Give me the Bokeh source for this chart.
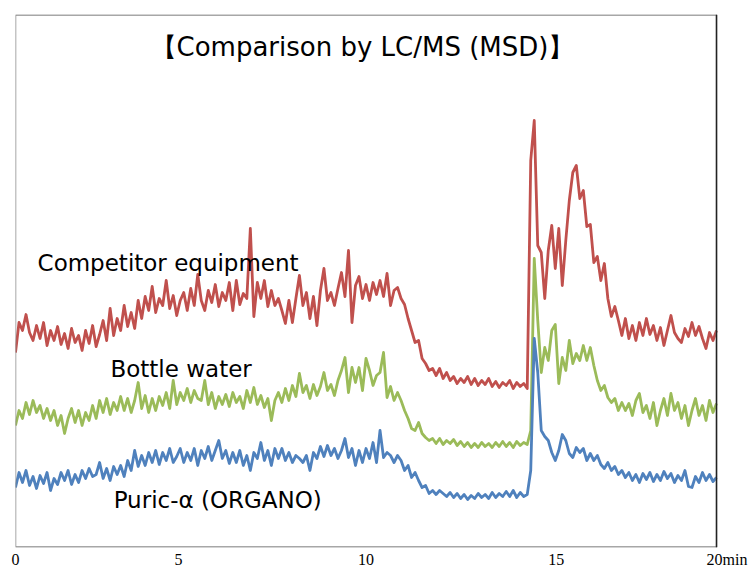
from bokeh.plotting import figure
from bokeh.models import Range1d, FixedTicker, Label, Span, BoxAnnotation
from bokeh.embed import file_html
from bokeh.resources import INLINE
import numpy as np

# retention time grid (min), 0.1 min sampling
time_min = np.round(np.arange(0, 20.0001, 0.1), 1)

competitor = [
    196, 226, 218, 234, 216, 208, 223, 210, 226, 203,
    218, 208, 222, 204, 215, 200, 220, 206, 213, 198,
    218, 205, 223, 202, 214, 228, 208, 240, 213, 230,
    218, 243, 222, 236, 220, 248, 230, 252, 238, 262,
    236, 250, 243, 268, 240, 253, 233, 248, 256, 238,
    260, 243, 274, 248, 238, 258, 246, 264, 242, 256,
    248, 266, 238, 268, 244, 255, 250, 320, 232, 266,
    250, 268, 242, 258, 243, 250, 238, 225, 248, 226,
    250, 273, 243, 256, 230, 252, 223, 258, 280, 248,
    256, 243, 260, 276, 252, 298, 226, 263, 272, 250,
    264, 248, 266, 254, 268, 252, 275, 243, 258, 261,
    250, 244, 230, 218, 206, 208, 190, 185, 178, 180,
    173, 180, 170, 176, 168, 172, 165, 170, 166, 172,
    164, 170, 163, 168, 164, 170, 162, 167, 161, 166,
    163, 168, 160, 166, 162, 165, 160, 388, 428, 303,
    296, 250, 298, 323, 280, 320, 263, 308, 348, 376,
    383, 350, 358, 322, 324, 286, 292, 268, 285, 250,
    232, 242, 228, 213, 230, 210, 223, 208, 226, 213,
    230, 214, 223, 208, 221, 203, 218, 233, 216, 210,
    206, 220, 212, 226, 213, 222, 210, 200, 216, 208,
    218,
]

bottle_water = [
    123, 138, 130, 146, 134, 148, 136, 143, 130, 140,
    128, 138, 123, 133, 115, 130, 140, 126, 138, 123,
    136, 128, 143, 130, 148, 136, 150, 134, 146, 138,
    152, 138, 150, 136, 148, 166, 140, 153, 136, 150,
    138, 152, 143, 156, 140, 168, 144, 156, 148, 160,
    146, 158, 150, 148, 168, 144, 156, 140, 152, 144,
    154, 142, 156, 146, 152, 140, 158, 146, 161, 144,
    153, 141, 150, 128, 148, 156, 146, 160, 148, 163,
    152, 175, 156, 163, 150, 164, 153, 162, 176, 158,
    164, 153, 168, 178, 191, 156, 181, 166, 181, 158,
    190, 178, 163, 173, 176, 196, 151, 162, 148, 156,
    148, 138, 130, 120, 118, 126, 115, 111, 108, 110,
    105, 110, 104, 108, 105, 109, 103, 107, 102, 106,
    101, 105, 101, 106, 102, 105, 101, 106, 102, 107,
    102, 106, 101, 107, 103, 106, 104, 118, 290, 228,
    176, 201, 188, 218, 224, 165, 191, 178, 208, 185,
    195, 188, 203, 188, 201, 183, 168, 158, 163, 151,
    146, 150, 138, 146, 138, 145, 133, 148, 155, 136,
    143, 130, 146, 123, 138, 150, 133, 155, 138, 146,
    130, 143, 123, 138, 150, 133, 143, 128, 148, 136,
    145,
]

puric_alpha = [
    61, 76, 66, 78, 63, 72, 60, 73, 65, 76,
    58, 70, 64, 76, 68, 78, 64, 74, 66, 78,
    70, 80, 72, 74, 86, 70, 80, 68, 82, 74,
    83, 72, 88, 78, 98, 82, 93, 83, 96, 86,
    98, 84, 96, 88, 100, 86, 92, 100, 86, 96,
    88, 100, 83, 98, 90, 102, 88, 98, 108, 90,
    98, 85, 96, 86, 98, 83, 93, 78, 96, 90,
    106, 88, 98, 83, 100, 90, 100, 88, 96, 86,
    93, 90, 86, 93, 78, 96, 90, 102, 92, 103,
    93, 100, 90, 98, 110, 91, 100, 83, 98, 86,
    100, 90, 106, 86, 118, 91, 96, 93, 86, 93,
    88, 78, 83, 71, 76, 68, 61, 63, 55, 58,
    54, 58, 55, 52, 56, 51, 55, 50, 54, 49,
    53, 50, 55, 51, 54, 50, 56, 51, 55, 52,
    57, 52, 58, 51, 56, 52, 54, 78, 210, 176,
    118, 112, 108, 96, 88, 98, 114, 108, 95, 91,
    101, 96, 100, 88, 95, 88, 93, 84, 80, 86,
    78, 82, 74, 78, 71, 76, 68, 74, 66, 75,
    69, 76, 67, 74, 68, 77, 70, 75, 66, 73,
    68, 78, 62, 61, 72, 66, 76, 68, 74, 67,
    71,
]

# tick positions as they appear in the reference axis row
tick_pos = [0, 4.65, 10, 15.43, 20.3]
tick_text = ["0", "5", "10", "15", "20min"]

series_names = ["Competitor equipment", "Bottle water", "Puric-α (ORGANO)"]
series_colors = ["#C0504D", "#9BBB59", "#4F81BD"]

p = figure(width=750, height=570, output_backend="svg", toolbar_location=None,
           x_range=Range1d(0, 20.827), y_range=Range1d(1, 534),
           y_axis_location=None, min_border_left=15, min_border_right=5,
           min_border_top=14, min_border_bottom=23)
p.grid.visible = False
p.background_fill_color = "white"
p.border_fill_color = "white"
p.outline_line_color = None

# plot-area frame (0–20 min)
p.add_layout(BoxAnnotation(left=0, right=20, bottom=1.5, top=533.5, fill_color=None,
                           fill_alpha=0, line_color="#8a8a8a", line_alpha=1.0,
                           line_width=1.5))
p.add_layout(Span(location=20, dimension="height", line_color="#222222", line_width=1.4))

for ys, c in zip([competitor, bottle_water, puric_alpha], series_colors):
    p.line(time_min, ys, line_color=c, line_width=2.8, line_join="round")

ax = p.xaxis[0]
ax.ticker = FixedTicker(ticks=tick_pos)
ax.major_label_overrides = {k: v for k, v in zip(tick_pos, tick_text)}
ax.major_tick_in = 0
ax.major_tick_out = 0
ax.minor_tick_in = 0
ax.minor_tick_out = 0
ax.axis_line_color = None
ax.major_label_standoff = 3
ax.major_label_text_font = "Liberation Serif"
ax.major_label_text_font_size = "16px"
ax.major_label_text_color = "black"

p.add_layout(Label(x=9.9, y=502, text="【Comparison by LC/MS (MSD)】", text_align="center",
                   text_baseline="alphabetic", text_font="DejaVu Sans",
                   text_font_size="26px", text_color="black"))

label_x = [0.63, 2.71, 2.80]
label_y = [286, 180, 49]
for name, lx, ly in zip(series_names, label_x, label_y):
    p.add_layout(Label(x=lx, y=ly, text=name, text_align="left",
                       text_baseline="alphabetic", text_font="DejaVu Sans",
                       text_font_size="23px", text_color="black"))

open("out.html", "w").write(file_html(p, INLINE))
